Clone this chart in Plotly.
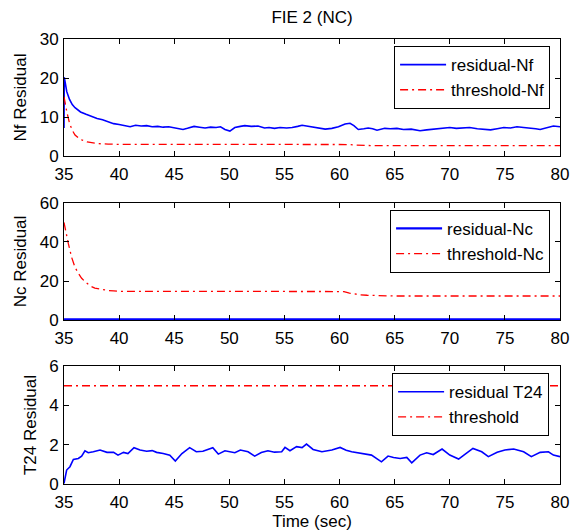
import plotly.graph_objects as go

# ---------------- data ----------------
t_nf_res = [35.0, 35.02, 35.1, 35.25, 35.5, 35.75, 36.0, 36.5, 37.0, 37.5,
            38.0, 38.5, 39.0, 39.5, 40.0, 40.5, 41.0, 41.5, 42.0, 42.5,
            43.0, 43.5, 44.0, 44.5, 45.0, 45.5, 45.8, 46.2, 46.8, 47.3,
            47.8, 48.3, 48.8, 49.2, 49.6, 50.05, 50.5, 51.0, 51.4, 52.0,
            52.6, 53.2, 53.6, 54.1, 54.6, 55.2, 55.7, 56.2, 56.6, 57.0,
            57.5, 58.0, 58.7, 59.3, 59.9, 60.5, 60.95, 61.3, 61.7, 62.2,
            62.6, 63.0, 63.4, 64.1, 64.6, 65.2, 65.8, 66.5, 67.3, 67.9,
            68.5, 69.2, 70.0, 70.6, 71.2, 71.8, 72.5, 73.1, 73.7, 74.3,
            74.9, 75.5, 76.1, 76.7, 77.3, 77.8, 78.2, 78.8, 79.4, 80.0]
nf_residual = [7.2, 20.2, 19.0, 16.5, 14.5, 13.2, 12.4, 11.3, 10.7, 10.1,
               9.6, 9.3, 8.7, 8.3, 8.1, 7.8, 7.5, 7.9, 7.7, 7.8,
               7.5, 7.6, 7.4, 7.5, 7.3, 7.0, 6.8, 7.1, 7.6, 7.4,
               7.2, 7.4, 7.3, 7.5, 6.8, 6.4, 7.3, 7.6, 7.8, 7.6,
               7.7, 7.2, 7.3, 7.1, 7.3, 7.2, 7.3, 7.6, 7.9, 7.7,
               7.5, 7.3, 6.9, 7.1, 7.5, 8.2, 8.4, 7.8, 6.8, 7.0,
               7.2, 7.0, 6.6, 7.1, 7.0, 7.1, 6.8, 6.9, 6.5, 6.7,
               6.9, 7.0, 7.3, 7.1, 7.2, 7.3, 7.0, 6.9, 6.7, 7.0,
               7.3, 7.2, 7.5, 7.3, 7.2, 7.0, 6.8, 7.3, 7.7, 7.5]

t_nf_thr = [35.0, 35.1, 35.25, 35.5, 35.75, 36.0, 36.45, 37.1, 38.0, 39.0, 40.0,
            45.0, 50.0, 55.0, 60.0, 60.8, 61.5, 62.5, 65.0, 70.0, 75.0, 80.0]
nf_threshold = [15.2, 13.5, 11.4, 8.4, 6.6, 5.4, 4.3, 3.6, 3.2, 3.05, 3.0,
                3.0, 3.0, 3.0, 3.0, 2.95, 2.8, 2.7, 2.65, 2.65, 2.65, 2.65]

t_nc_res = [35.0, 40.0, 45.0, 50.0, 55.0, 60.0, 65.0, 70.0, 75.0, 80.0]
nc_residual = [0.4, 0.3, 0.3, 0.3, 0.3, 0.3, 0.3, 0.3, 0.3, 0.3]

t_nc_thr = [35.0, 35.2, 35.4, 35.7, 36.0, 36.3, 36.6, 37.0, 37.4, 37.8, 38.3, 39.0, 39.5,
            40.0, 45.0, 50.0, 55.0, 60.0, 60.4, 60.9, 61.4, 61.9, 62.5, 63.4, 64.5,
            65.0, 70.0, 75.0, 80.0]
nc_threshold = [50.0, 44.0, 39.0, 32.0, 27.0, 24.0, 21.4, 19.2, 17.4, 16.4, 15.7, 15.1, 14.9,
                14.7, 14.7, 14.7, 14.7, 14.7, 14.6, 13.8, 13.2, 12.9, 12.7, 12.5, 12.35,
                12.3, 12.3, 12.3, 12.3]

t_t24_res = [35.0, 35.1, 35.24, 35.54, 35.85, 36.3, 36.6, 36.9, 37.2, 37.66,
             38.27, 38.9, 39.5, 39.9, 40.4, 40.8, 41.35, 41.9, 42.5, 43.0,
             43.4, 44.0, 44.6, 45.1, 45.7, 46.4, 47.0, 47.6, 48.5, 49.0,
             49.6, 50.5, 51.0, 51.7, 52.3, 52.9, 53.5, 54.1, 54.75, 55.05,
             55.5, 56.1, 56.6, 57.0, 57.6, 58.4, 59.3, 60.05, 60.6, 61.1,
             62.0, 62.9, 63.8, 64.4, 64.9, 65.5, 66.1, 66.55, 67.3, 67.9,
             68.5, 69.3, 70.0, 70.8, 71.4, 72.1, 72.9, 73.5, 74.3, 75.0,
             75.8, 76.7, 77.4, 78.2, 78.95, 79.4, 80.0]
t24_residual = [0.03, 0.4, 0.71, 0.88, 1.25, 1.3, 1.42, 1.69, 1.59, 1.64,
                1.73, 1.61, 1.61, 1.47, 1.61, 1.55, 1.85, 1.73, 1.67, 1.70,
                1.61, 1.55, 1.47, 1.17, 1.55, 1.85, 1.64, 1.67, 1.85, 1.52,
                1.69, 1.59, 1.73, 1.64, 1.42, 1.60, 1.69, 1.62, 1.64, 1.86,
                1.69, 1.90, 1.85, 2.03, 1.76, 1.64, 1.73, 1.86, 1.72, 1.64,
                1.55, 1.47, 1.13, 1.42, 1.35, 1.30, 1.35, 1.08, 1.47, 1.59,
                1.50, 1.78, 1.47, 1.27, 1.52, 1.81, 1.64, 1.39, 1.61, 1.73,
                1.78, 1.64, 1.39, 1.61, 1.64, 1.47, 1.39]

t_t24_thr = [35.0, 80.0]
t24_threshold = [5.0, 5.0]

x_ticks = [35, 40, 45, 50, 55, 60, 65, 70, 75, 80]
y1_ticks = [0, 10, 20, 30]
y2_ticks = [0, 20, 40, 60]
y3_ticks = [0, 2, 4, 6]

# ---------------- figure ----------------
BLUE = "#0000ff"
RED = "#ff0000"
FONT = "Liberation Sans, Arial, sans-serif"
FS = 17
DASH = "8px,4px,2px,4px"

fig = go.Figure()
fig.add_trace(go.Scatter(x=t_nf_res, y=nf_residual, mode="lines", name="residual-Nf",
                         line=dict(color=BLUE, width=1.6), xaxis="x", yaxis="y", legend="legend"))
fig.add_trace(go.Scatter(x=t_nf_thr, y=nf_threshold, mode="lines", name="threshold-Nf",
                         line=dict(color=RED, width=1.3, dash=DASH), xaxis="x", yaxis="y", legend="legend"))
fig.add_trace(go.Scatter(x=t_nc_res, y=nc_residual, mode="lines", name="residual-Nc",
                         line=dict(color=BLUE, width=2.2), xaxis="x2", yaxis="y2", legend="legend2"))
fig.add_trace(go.Scatter(x=t_nc_thr, y=nc_threshold, mode="lines", name="threshold-Nc",
                         line=dict(color=RED, width=1.3, dash=DASH), xaxis="x2", yaxis="y2", legend="legend2"))
fig.add_trace(go.Scatter(x=t_t24_res, y=t24_residual, mode="lines", name="residual T24",
                         line=dict(color=BLUE, width=1.6), xaxis="x3", yaxis="y3", legend="legend3"))
fig.add_trace(go.Scatter(x=t_t24_thr, y=t24_threshold, mode="lines", name="threshold",
                         line=dict(color=RED, width=1.3, dash=DASH), xaxis="x3", yaxis="y3", legend="legend3"))

axis_common = dict(showline=True, linecolor="black", linewidth=1, mirror="ticks",
                   ticks="inside", ticklen=5, tickcolor="black", showgrid=False,
                   zeroline=False, automargin=False,
                   tickfont=dict(family=FONT, size=FS, color="black"))

def xax(anchor, title=None):
    d = dict(axis_common, range=[35, 80], tickvals=x_ticks, ticktext=[str(v) for v in x_ticks],
             anchor=anchor, domain=[0, 1], ticklabelstandoff=3)
    if title:
        d["title"] = dict(text=title, font=dict(family=FONT, size=FS, color="black"), standoff=7)
    return d

def yax(anchor, rng, ticks, dom, title):
    return dict(axis_common, range=rng, tickvals=ticks, ticktext=[str(v) for v in ticks],
                anchor=anchor, domain=dom, ticklabelstandoff=1,
                title=dict(text=title, font=dict(family=FONT, size=FS, color="black"), standoff=8))

legend_common = dict(bgcolor="white", bordercolor="black", borderwidth=1,
                     font=dict(family=FONT, size=FS, color="black"),
                     xanchor="right", yanchor="top", xref="paper", yref="paper",
                     tracegroupgap=0, itemwidth=46)

fig.update_layout(
    width=581, height=531,
    margin=dict(l=64, r=21, t=39, b=47),
    paper_bgcolor="white", plot_bgcolor="white",
    font=dict(family=FONT, size=FS, color="black"),
    title=dict(text="FIE 2 (NC)", x=0.5, xref="paper", y=1 - 17 / 531, yref="container",
               yanchor="middle", xanchor="center", font=dict(family=FONT, size=FS, color="black")),
    xaxis=xax("y"),
    yaxis=yax("x", [0, 30], y1_ticks, [0.737, 1.0], "Nf Residual"),
    xaxis2=xax("y2"),
    yaxis2=yax("x2", [0, 60], y2_ticks, [0.3685, 0.6315], "Nc Residual"),
    xaxis3=xax("y3", "Time (sec)"),
    yaxis3=yax("x3", [0, 6], y3_ticks, [0.0, 0.265], "T24 Residual"),
    legend=dict(legend_common, x=0.98, y=0.984),
    legend2=dict(legend_common, x=0.98, y=0.616),
    legend3=dict(legend_common, x=0.978, y=0.249),
    showlegend=True,
)

fig.write_html("out.html",
               config={"displayModeBar": False},
               post_script="document.body.style.margin='0';document.body.style.padding='0';")
